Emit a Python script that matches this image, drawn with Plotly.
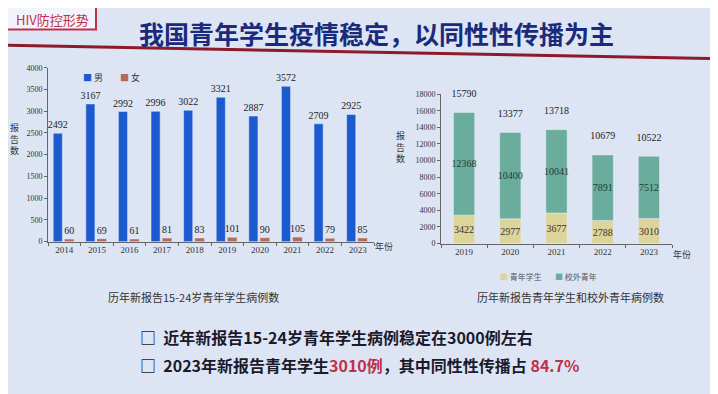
import plotly.graph_objects as go

years_left = ["2014", "2015", "2016", "2017", "2018", "2019", "2020", "2021", "2022", "2023"]
male = [2492, 3167, 2992, 2996, 3022, 3321, 2887, 3572, 2709, 2925]
female = [60, 69, 61, 81, 83, 101, 90, 105, 79, 85]

years_right = ["2019", "2020", "2021", "2022", "2023"]
students = [3422, 2977, 3677, 2788, 3010]
outside = [12368, 10400, 10041, 7891, 7512]
totals = [15790, 13377, 13718, 10679, 10522]

W, H = 718, 394
def px(x): return x / W
def py(y): return 1 - y / H

SERIF = "Liberation Serif, DejaVu Serif, serif"
CJK = "Noto Sans CJK SC"

MALE_C = "#1c5ad0"
FEMALE_C = "#b36a5c"
STU_C = "#ddd49a"
OUT_C = "#6aad9d"

fig = go.Figure()

# Left chart (side-by-side via explicit offsets)
fig.add_trace(go.Bar(x=years_left, y=male, name="男", marker_color=MALE_C,
                     text=male, textposition="outside", cliponaxis=False, constraintext="none",
                     textfont=dict(family=SERIF, size=10, color="#222"),
                     width=0.28, offset=-0.34, showlegend=False,
                     xaxis="x", yaxis="y"))
fig.add_trace(go.Bar(x=years_left, y=female, name="女", marker_color=FEMALE_C,
                     text=female, textposition="outside", cliponaxis=False, constraintext="none",
                     textfont=dict(family=SERIF, size=10, color="#222"),
                     width=0.3, offset=0.0, showlegend=False,
                     xaxis="x", yaxis="y"))

# Right chart (stacked via base)
fig.add_trace(go.Bar(x=years_right, y=students, name="青年学生", marker_color=STU_C,
                     text=students, textposition="inside", insidetextanchor="middle",
                     constraintext="none", textangle=0,
                     textfont=dict(family=SERIF, size=10, color="#333"),
                     xaxis="x2", yaxis="y2", width=0.46, showlegend=False))
fig.add_trace(go.Bar(x=years_right, y=outside, base=students, name="校外青年", marker_color=OUT_C,
                     text=outside, textposition="inside", insidetextanchor="middle",
                     constraintext="none", textangle=0,
                     textfont=dict(family=SERIF, size=10, color="#1d3d35"),
                     xaxis="x2", yaxis="y2", width=0.46, showlegend=False))
fig.add_trace(go.Scatter(x=years_right, y=totals, mode="text", text=[f"{t}<br> " for t in totals],
                         textposition="top center", showlegend=False,
                         textfont=dict(family=SERIF, size=10, color="#222"),
                         xaxis="x2", yaxis="y2", cliponaxis=False))

axis_common = dict(showline=True, linecolor="#666", linewidth=1, ticks="outside",
                   tickcolor="#666", ticklen=3, showgrid=False, zeroline=False,
                   tickfont=dict(family=SERIF, size=8, color="#333"))

fig.update_layout(
    width=W, height=H, margin=dict(l=0, r=0, t=0, b=0),
    paper_bgcolor="#dde5f4", plot_bgcolor="rgba(0,0,0,0)",
    barmode="overlay",
    xaxis=dict(domain=[px(40), px(366)], anchor="y", type="category",
               tickson="boundaries", **axis_common),
    yaxis=dict(domain=[py(235), py(57)], anchor="x", range=[0, 4000], dtick=500,
               tickformat="d", **axis_common),
    xaxis2=dict(domain=[px(433), px(664)], anchor="y2", type="category",
                tickson="boundaries", **axis_common),
    yaxis2=dict(domain=[py(237), py(84)], anchor="x2", range=[0, 18000], dtick=2000,
                tickformat="d", **axis_common),
    showlegend=False,
)
fig.update_xaxes(tickfont=dict(size=9))

ann = []
def A(text, x, y, size, color="#222", bold=False, xanchor="center", yanchor="middle", family=CJK):
    if bold:
        text = "<b>" + text + "</b>"
    ann.append(dict(text=text, x=px(x), y=py(y), xref="paper", yref="paper",
                    showarrow=False, xanchor=xanchor, yanchor=yanchor,
                    font=dict(family=family, size=size, color=color)))

A("我国青年学生疫情稳定，以同性性传播为主", 368, 22, 25, "#1b2a7a", bold=True)
A("HIV防控形势", 44, 8, 13, "#c0304a")
A("报<br>告<br>数", 6, 130, 9, "#333")
A("报<br>告<br>数", 392, 138, 9, "#333")
A("年份", 376, 240, 9, "#333")
A("年份", 674, 248, 9, "#333")
# legends
A(f"<span style='color:{MALE_C}'>■</span> 男", 73, 67, 9, "#333", xanchor="left")
A(f"<span style='color:{FEMALE_C}'>■</span> 女", 110, 67, 9, "#333", xanchor="left")
A(f"<span style='color:{STU_C}'>■</span> 青年学生", 490, 271, 8, "#555", xanchor="left")
A(f"<span style='color:{OUT_C}'>■</span> 校外青年", 545, 271, 8, "#555", xanchor="left")
A("历年新报告15-24岁青年学生病例数", 186, 292, 11, "#333")
A("历年新报告青年学生和校外青年病例数", 562, 292, 11, "#333")
A("□  近年新报告15-24岁青年学生病例稳定在3000例左右", 130, 333, 16, "#1a1a2a", bold=True, xanchor="left")
A("□  2023年新报告青年学生<span style='color:#c0304a'>3010例</span>，其中同性性传播占 <span style='color:#c0304a'>84.7%</span>",
  130, 361, 16, "#1a1a2a", bold=True, xanchor="left")

fig.update_layout(annotations=ann)

fig.update_layout(shapes=[
    dict(type="line", xref="paper", yref="paper", x0=0, y0=py(34), x1=1, y1=py(48),
         line=dict(color="#8b1a2b", width=3)),
    dict(type="rect", xref="paper", yref="paper", x0=px(-2), y0=py(18), x1=px(88), y1=py(-6),
         line=dict(color="#c0304a", width=2), fillcolor="rgba(255,255,255,0.6)", layer="below"),
])

fig.write_html("out.html")
